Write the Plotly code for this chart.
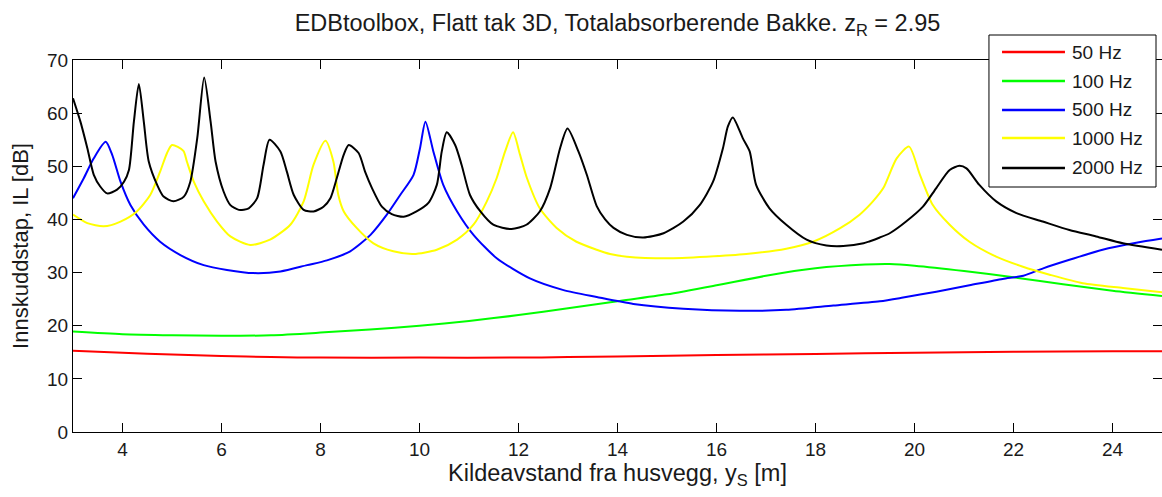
import plotly.graph_objects as go

# Insertion loss (dB) versus source distance from the facade (m), per frequency
freq_labels = ["50 Hz", "100 Hz", "500 Hz", "1000 Hz", "2000 Hz"]
line_colors = ["#ff0000", "#00ff00", "#0000ff", "#ffff00", "#000000"]

x_50 = [3.0, 4.0, 5.0, 6.0, 7.0, 8.0, 10.0, 12.0, 13.0, 14.0, 16.0, 18.0, 20.0, 22.0, 24.0, 25.0]
il_50 = [15.3, 14.9, 14.6, 14.3, 14.1, 14.0, 14.0, 14.0, 14.1, 14.2, 14.5, 14.7, 14.9, 15.1, 15.2, 15.2]

x_100 = [3, 4, 5, 6, 7, 8, 9, 10, 11, 12, 13, 14, 15, 16, 17, 18, 19, 19.5, 20, 21, 22, 23, 24, 25]
il_100 = [18.9, 18.4, 18.2, 18.1, 18.2, 18.7, 19.3, 20.0, 20.9, 22.0, 23.3, 24.6, 25.9, 27.6,
          29.4, 30.8, 31.5, 31.6, 31.3, 30.3, 29.1, 27.8, 26.6, 25.6]

x_500 = [3.00, 3.22, 3.42, 3.66, 3.79, 3.96, 4.16, 4.43, 4.76, 5.17, 5.64, 6.11, 6.65, 7.19,
         7.73, 8.13, 8.60, 9.01, 9.34, 9.61, 9.88, 10.01, 10.12, 10.28, 10.48, 10.76, 11.09,
         11.56, 12.23, 12.91, 13.58, 14.32, 15.33, 16.47, 17.41, 18.36, 19.30, 19.77, 20.44,
         21.11, 21.78, 22.20, 22.60, 23.13, 23.80, 24.48, 25.00]
il_500 = [44.0, 47.8, 51.5, 54.6, 52.2, 47.1, 42.7, 39.0, 35.8, 33.3, 31.4, 30.5, 29.9, 30.2,
          31.4, 32.3, 34.0, 37.1, 40.9, 44.6, 48.4, 53.4, 58.4, 52.8, 46.5, 41.5, 37.1,
          32.7, 28.9, 26.7, 25.4, 24.1, 23.2, 22.8, 23.0, 23.8, 24.6, 25.3, 26.4,
          27.6, 28.8, 29.4, 30.8, 32.4, 34.3, 35.6, 36.4]

x_1000 = [3.00, 3.29, 3.62, 3.96, 4.29, 4.56, 4.76, 4.90, 5.00, 5.23, 5.30, 5.44, 5.64, 5.91,
          6.18, 6.58, 6.98, 7.39, 7.66, 7.86, 8.10, 8.26, 8.36, 8.47, 8.73, 9.07, 9.47, 9.88,
          10.35, 10.76, 11.09, 11.36, 11.56, 11.73, 11.89, 12.03, 12.17, 12.43, 12.77, 13.17,
          13.58, 13.85, 14.19, 15.00, 15.80, 16.60, 17.41, 17.95, 18.49, 18.89, 19.16, 19.37,
          19.64, 19.89, 20.11, 20.37, 20.71, 21.11, 21.65, 22.19, 22.73, 23.40, 24.21, 25.00]
il_1000 = [40.9, 39.3, 38.7, 39.6, 41.5, 44.6, 49.0, 52.5, 54.0, 52.9, 50.9, 47.1, 43.4, 39.6,
           36.8, 35.2, 36.2, 39.0, 43.4, 50.3, 54.8, 50.9, 44.6, 41.5, 38.4, 35.5, 34.0, 33.5,
           34.3, 36.2, 39.0, 43.4, 47.8, 52.8, 56.4, 52.2, 47.8, 42.1, 38.4, 35.8,
           34.3, 33.5, 33.0, 32.7, 33.0, 33.5, 34.5, 35.8, 38.3, 40.9, 43.4, 45.9,
           51.5, 53.7, 48.4, 42.7, 39.0, 35.8, 33.0, 31.1, 29.6, 28.0, 27.1, 26.3]

x_2000 = [3.00, 3.15, 3.29, 3.42, 3.55, 3.69, 3.89, 4.03, 4.13, 4.23, 4.33, 4.43, 4.53, 4.70,
          4.83, 5.03, 5.24, 5.37, 5.51, 5.65, 5.78, 5.88, 6.04, 6.18, 6.35, 6.55, 6.72, 6.85,
          6.97, 7.19, 7.32, 7.46, 7.66, 7.86, 8.06, 8.20, 8.33, 8.47, 8.57, 8.77, 8.90, 9.04,
          9.24, 9.44, 9.68, 9.94, 10.18, 10.35, 10.45, 10.55, 10.72, 10.85, 11.02, 11.23,
          11.49, 11.86, 12.16, 12.43, 12.64, 12.84, 12.99, 13.21, 13.38, 13.58, 13.75, 13.92,
          14.19, 14.52, 14.93, 15.33, 15.66, 15.93, 16.13, 16.23, 16.33, 16.53, 16.67, 16.80,
          17.07, 17.41, 17.82, 18.22, 18.56, 18.97, 19.10, 19.30, 19.50, 19.83, 20.17, 20.44,
          20.71, 20.91, 21.05, 21.31, 21.65, 22.06, 22.59, 23.13, 23.67, 24.21, 25.00]
il_2000 = [62.8, 58.4, 53.4, 48.4, 46.2, 44.9, 45.6, 47.1, 49.3, 58.4, 65.5, 58.4, 50.9, 46.5,
           44.3, 43.4, 44.3, 47.1, 55.3, 66.7, 58.4, 50.9, 45.3, 42.7, 41.8, 42.1, 44.0, 50.3,
           55.0, 52.8, 49.0, 44.6, 41.8, 41.5, 42.4, 44.0, 47.8, 52.2, 54.0, 52.5, 49.0, 45.9,
           42.4, 41.0, 40.5, 41.5, 43.1, 46.5, 52.8, 56.4, 54.0, 50.3, 44.6, 41.5,
           39.0, 38.2, 39.0, 41.5, 45.9, 53.4, 57.1, 52.8, 48.4, 42.5, 40.0, 38.4,
           37.1, 36.6, 37.4, 39.6, 42.7, 47.1, 53.4, 57.5, 59.2, 55.3, 52.8, 46.5,
           42.1, 39.0, 36.2, 35.1, 35.0, 35.5, 35.9, 36.6, 37.4, 39.6, 42.4, 45.9,
           49.3, 50.1, 49.6, 46.5, 43.4, 41.2, 39.6, 38.0, 36.8, 35.5, 34.3]

x_ticks = [4, 6, 8, 10, 12, 14, 16, 18, 20, 22, 24]
y_ticks = [0, 10, 20, 30, 40, 50, 60, 70]

series_x = [x_50, x_100, x_500, x_1000, x_2000]
series_y = [il_50, il_100, il_500, il_1000, il_2000]

FONT = "Liberation Sans, Arial, sans-serif"
TEXT = "#1a1a1a"

fig = go.Figure()
for xs, ys, name, col in zip(series_x, series_y, freq_labels, line_colors):
    fig.add_trace(go.Scatter(x=xs, y=ys, mode="lines", name=name,
                             line=dict(color=col, width=2, shape="spline", smoothing=0.7),
                             showlegend=False))

axis_common = dict(showline=True, linecolor="black", linewidth=1, mirror="ticks",
                   ticks="inside", ticklen=9, tickwidth=1, tickcolor="black",
                   showgrid=False, zeroline=False,
                   tickfont=dict(family=FONT, size=19, color=TEXT))

fig.update_xaxes(range=[3, 25], tickvals=x_ticks, **axis_common,
                 title=dict(text="Kildeavstand fra husvegg, y<sub>S</sub> [m]",
                            font=dict(family=FONT, size=23.5, color=TEXT), standoff=2))
fig.update_yaxes(range=[0, 70], tickvals=y_ticks, **axis_common,
                 title=dict(text="Innskuddstap, IL [dB]",
                            font=dict(family=FONT, size=22, color=TEXT), standoff=12))

# Boxed legend in the upper right corner, overlapping the top of the axes
box_x0, box_x1, box_y0, box_y1 = 0.8411, 0.9945, 0.6586, 1.0672
sample_x0, sample_x1, text_x = 0.8531, 0.9109, 0.9155
row_y = [1.0215, 0.9435, 0.8656, 0.7903, 0.7097]

shapes = [dict(type="rect", xref="paper", yref="paper", x0=box_x0, x1=box_x1,
               y0=box_y0, y1=box_y1, line=dict(color="black", width=1),
               fillcolor="white", layer="above")]
annotations = []
for yy, name, col in zip(row_y, freq_labels, line_colors):
    shapes.append(dict(type="line", xref="paper", yref="paper", x0=sample_x0, x1=sample_x1,
                       y0=yy, y1=yy, line=dict(color=col, width=2.5), layer="above"))
    annotations.append(dict(xref="paper", yref="paper", x=text_x, y=yy, text=name,
                            showarrow=False, xanchor="left", yanchor="middle",
                            font=dict(family=FONT, size=19, color=TEXT)))

fig.update_layout(
    width=1162, height=497,
    margin=dict(l=73, r=0, t=60, b=65),
    paper_bgcolor="white", plot_bgcolor="white",
    title=dict(text="EDBtoolbox, Flatt tak 3D, Totalabsorberende Bakke. z<sub>R</sub> = 2.95",
               x=0.5, xref="paper", xanchor="center", y=0.955, yanchor="middle",
               font=dict(family=FONT, size=23.5, color=TEXT)),
    shapes=shapes, annotations=annotations,
)

fig.write_html("out.html")
